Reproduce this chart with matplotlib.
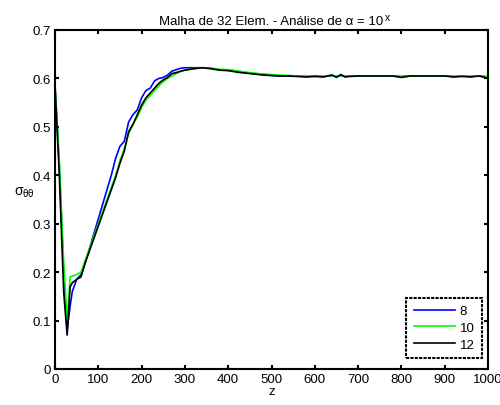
import matplotlib
matplotlib.use('Agg')
import matplotlib.pyplot as plt
from matplotlib.ticker import FuncFormatter

plt.rcParams['font.family'] = ['Liberation Sans', 'DejaVu Sans']
plt.rcParams['mathtext.fontset'] = 'custom'
plt.rcParams['mathtext.rm'] = 'Liberation Sans'
plt.rcParams['mathtext.it'] = 'Liberation Sans'

# data
z = [0, 10, 20, 28, 35, 40, 50, 60, 70, 80, 90, 100, 110, 120, 130, 140, 150,
     160, 170, 180, 190, 200, 210, 220, 230, 240, 250, 260, 270, 280, 290, 300,
     320, 340, 360, 380, 400, 420, 440, 460, 480, 500, 520, 540, 560, 580, 600,
     620, 640, 650, 660, 670, 680, 700, 720, 740, 760, 780, 800, 820, 840, 860,
     880, 900, 920, 940, 960, 980, 1000]

s8 = [0.585, 0.42, 0.20, 0.08, 0.13, 0.16, 0.185, 0.195, 0.22, 0.25, 0.28,
      0.31, 0.34, 0.37, 0.40, 0.435, 0.46, 0.47, 0.51, 0.525, 0.535, 0.56, 0.575,
      0.58, 0.595, 0.60, 0.602, 0.607, 0.615, 0.618, 0.621, 0.622, 0.622, 0.622,
      0.621, 0.618, 0.617, 0.615, 0.612, 0.610, 0.609, 0.606, 0.605, 0.605,
      0.605, 0.604, 0.605, 0.604, 0.606, 0.604, 0.606, 0.604, 0.605, 0.605,
      0.605, 0.605, 0.605, 0.605, 0.604, 0.605, 0.605, 0.605, 0.605, 0.605,
      0.604, 0.605, 0.604, 0.605, 0.603]

s10 = [0.585, 0.43, 0.22, 0.10, 0.19, 0.192, 0.195, 0.20, 0.225, 0.25, 0.275,
       0.30, 0.325, 0.35, 0.375, 0.40, 0.43, 0.455, 0.485, 0.505, 0.52, 0.54,
       0.555, 0.565, 0.575, 0.585, 0.593, 0.60, 0.605, 0.61, 0.614, 0.617,
       0.620, 0.622, 0.621, 0.619, 0.618, 0.616, 0.613, 0.611, 0.609, 0.608,
       0.607, 0.606, 0.605, 0.605, 0.604, 0.605, 0.606, 0.604, 0.606, 0.604,
       0.605, 0.605, 0.605, 0.605, 0.605, 0.605, 0.603, 0.605, 0.605, 0.605,
       0.605, 0.605, 0.604, 0.605, 0.605, 0.605, 0.604]

s12 = [0.585, 0.40, 0.16, 0.07, 0.17, 0.178, 0.185, 0.19, 0.22, 0.245, 0.27,
       0.295, 0.32, 0.345, 0.37, 0.395, 0.425, 0.45, 0.49, 0.505, 0.525, 0.545,
       0.56, 0.57, 0.58, 0.59, 0.597, 0.602, 0.61, 0.612, 0.615, 0.617, 0.620,
       0.622, 0.620, 0.617, 0.616, 0.613, 0.611, 0.609, 0.607, 0.606, 0.605,
       0.605, 0.604, 0.603, 0.604, 0.603, 0.607, 0.602, 0.608, 0.603, 0.604,
       0.605, 0.605, 0.605, 0.605, 0.605, 0.602, 0.605, 0.605, 0.605, 0.605,
       0.605, 0.603, 0.604, 0.603, 0.605, 0.600]

labels = ['8', '10', '12']
colors = ['#0000ff', '#00ff00', '#000000']

fig = plt.figure(figsize=(5.0, 4.06), dpi=100)
ax = fig.add_axes([0.11, 0.0887, 0.866, 0.835])

for ys, lab, c in zip([s8, s10, s12], labels, colors):
    ax.plot(z, ys, color=c, lw=1.2, label=lab)

ax.set_xlim(0, 1000)
ax.set_ylim(0, 0.7)
ax.set_xticks(range(0, 1001, 100))
ax.set_yticks([0, 0.1, 0.2, 0.3, 0.4, 0.5, 0.6, 0.7])
ax.yaxis.set_major_formatter(FuncFormatter(lambda v, p: '0' if v == 0 else '%.1f' % v))
ax.tick_params(direction='in', length=3, width=1.5, top=True, right=True,
               labelsize=9.5, pad=3)
for sp in ax.spines.values():
    sp.set_linestyle((0, (1.5, 0.6)))
    sp.set_linewidth(1.5)

ttl = ax.set_title('Malha de 32 Elem. - Análise de α = 10', fontsize=9.5, pad=4)
fig.canvas.draw()
bb = ttl.get_window_extent()
# raised exponent, like the MATLAB title
fig.text((bb.x1 + 1) / fig.bbox.width, (bb.y1 + 3) / fig.bbox.height, 'x',
         fontsize=7.5, va='top', ha='left')

ax.set_xlabel('z', fontsize=9.5, labelpad=0)
ax.set_ylabel(r'$\sigma_{\theta\theta}$', fontsize=10, rotation=0, labelpad=6)

leg = ax.legend(loc='lower right', bbox_to_anchor=(0.986, 0.032), borderaxespad=0,
                fontsize=9.5, fancybox=False, framealpha=1, edgecolor='black',
                handlelength=3.1, handletextpad=0.4, borderpad=0.55,
                labelspacing=0.35)
leg.get_frame().set_linestyle((0, (1.5, 0.6)))
leg.get_frame().set_linewidth(1.5)

fig.savefig('out.png', dpi=100)
